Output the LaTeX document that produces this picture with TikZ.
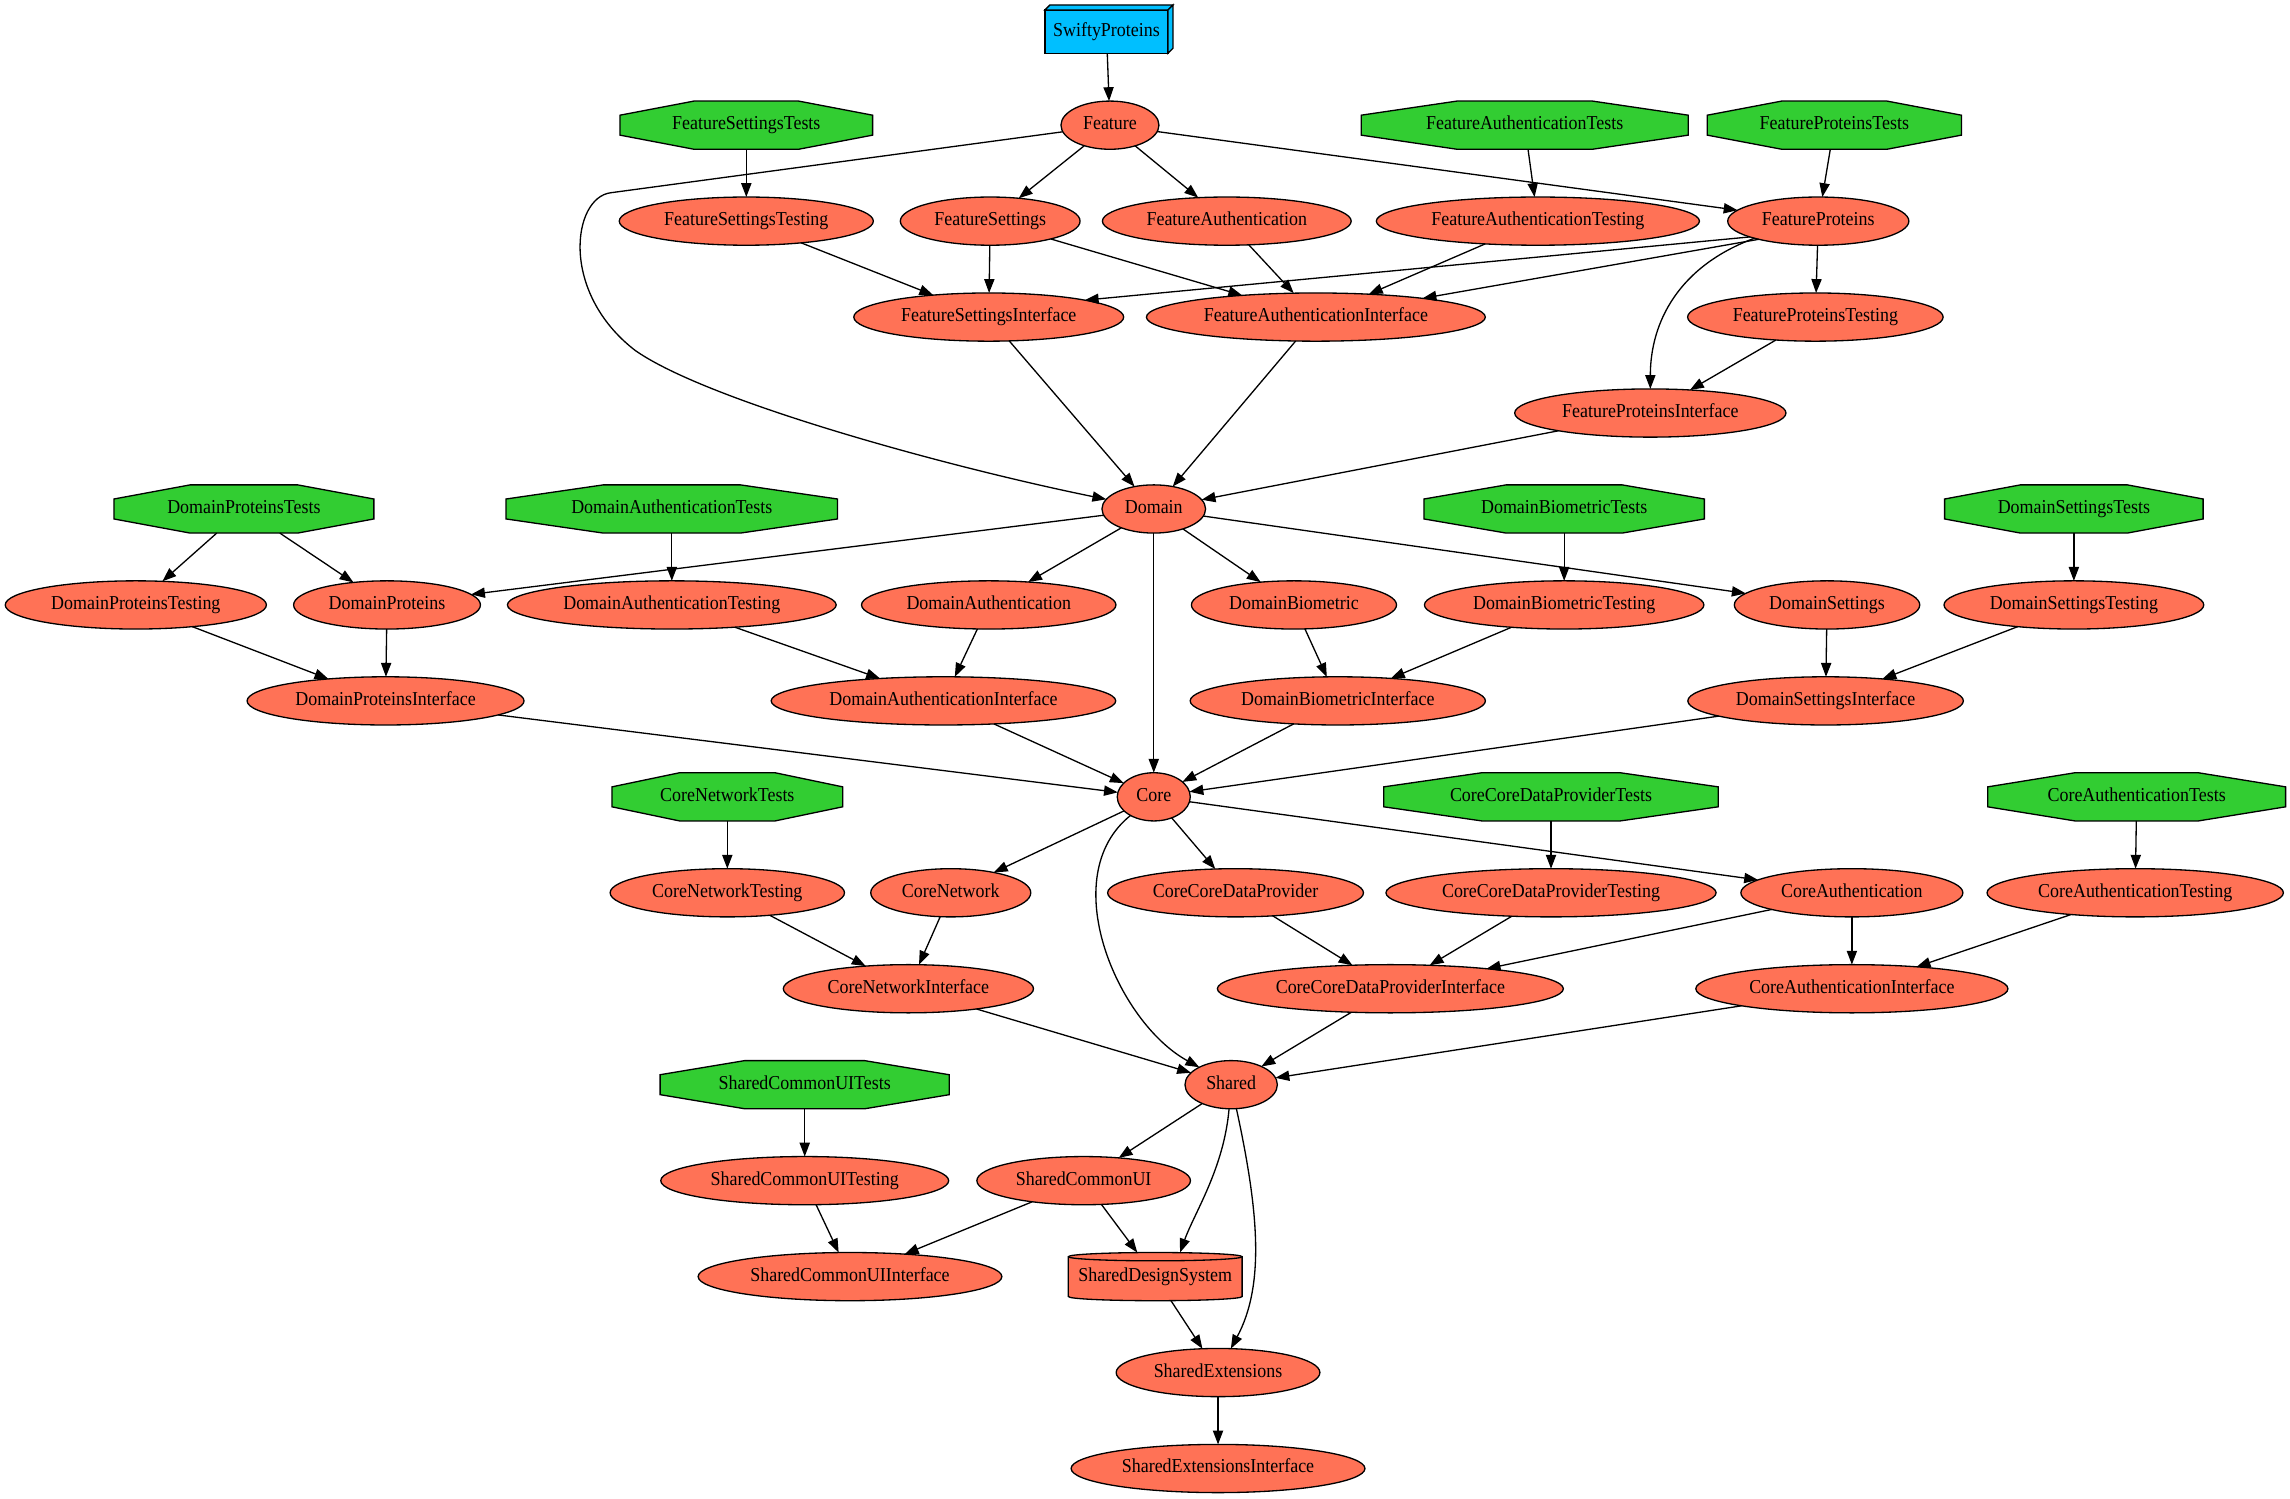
\documentclass[tikz,border=0pt]{standalone}
\usepackage{fontspec}
\setmainfont{Liberation Serif}[FakeStretch=0.91]
\usetikzlibrary{shapes.geometric, arrows.meta, calc, backgrounds}

\definecolor{appblue}{RGB}{0,191,255}
\definecolor{testgreen}{RGB}{50,205,50}
\definecolor{modcoral}{RGB}{255,114,86}

\begin{document}
\begin{tikzpicture}[x=1pt, y=-1pt, >={Triangle[length=9.5pt, width=7pt]},
    every node/.style={font=\fontsize{13.5}{15}\selectfont, text height=9pt, text depth=2.9pt, outer sep=0pt},
    module/.style={ellipse, draw, fill=modcoral, line width=0.9pt, minimum width=50pt, minimum height=33pt, inner xsep=5.3pt, inner ysep=2pt},
    tests/.style={rectangle, minimum height=33pt, inner sep=0pt},
    testshape/.style={draw, fill=testgreen, line width=0.9pt},
    appbox/.style={rectangle, draw, fill=appblue, line width=0.9pt, minimum width=84.3pt, minimum height=29.6pt, inner sep=0pt},
    bundle/.style={rectangle, minimum width=119pt, minimum height=33pt, inner sep=0pt},
    dep/.style={->, line width=0.9pt}]
    \useasboundingbox (0,0) rectangle (1568,1026);

    % App
    \node[appbox] (app) at (757.6,21.6) {SwiftyProteins};
    \filldraw[fill=appblue, line width=0.9pt] (app.north west) -- ++(3.4,-3.4) -- ($(app.north east)+(3.4,-3.4)$) -- (app.north east) -- cycle;
    \filldraw[fill=appblue, line width=0.9pt] (app.north east) -- ++(3.4,-3.4) -- ($(app.south east)+(3.4,-3.4)$) -- (app.south east) -- cycle;

    % Feature layer
    \node[module] (feat) at (760,85.7) {Feature};
    \node[tests, minimum width=173pt] (featSetTests) at (511,85.7) {FeatureSettingsTests};
    \node[tests, minimum width=224pt] (featAuthTests) at (1044,85.7) {FeatureAuthenticationTests};
    \node[tests, minimum width=174pt] (featProtTests) at (1256,85.7) {FeatureProteinsTests};

    \node[module] (featSetTesting) at (511,151.4) {FeatureSettingsTesting};
    \node[module] (featSet) at (678,151.4) {FeatureSettings};
    \node[module] (featAuth) at (840,151.4) {FeatureAuthentication};
    \node[module] (featAuthTesting) at (1053,151.4) {FeatureAuthenticationTesting};
    \node[module] (featProt) at (1245,151.4) {FeatureProteins};

    \node[module] (featSetIf) at (677,217.1) {FeatureSettingsInterface};
    \node[module] (featAuthIf) at (901,217.1) {FeatureAuthenticationInterface};
    \node[module] (featProtTesting) at (1243,217.1) {FeatureProteinsTesting};
    \node[module] (featProtIf) at (1130,282.8) {FeatureProteinsInterface};

    % Domain layer
    \node[module] (dom) at (790,348.5) {Domain};
    \node[tests, minimum width=178pt] (domProtTests) at (167,348.5) {DomainProteinsTests};
    \node[tests, minimum width=227pt] (domAuthTests) at (460,348.5) {DomainAuthenticationTests};
    \node[tests, minimum width=192pt] (domBioTests) at (1071,348.5) {DomainBiometricTests};
    \node[tests, minimum width=177pt] (domSetTests) at (1420,348.5) {DomainSettingsTests};

    \node[module] (domProtTesting) at (93,414.2) {DomainProteinsTesting};
    \node[module] (domProt) at (265,414.2) {DomainProteins};
    \node[module] (domAuthTesting) at (460,414.2) {DomainAuthenticationTesting};
    \node[module] (domAuth) at (677,414.2) {DomainAuthentication};
    \node[module] (domBio) at (886,414.2) {DomainBiometric};
    \node[module] (domBioTesting) at (1071,414.2) {DomainBiometricTesting};
    \node[module] (domSet) at (1251,414.2) {DomainSettings};
    \node[module] (domSetTesting) at (1420,414.2) {DomainSettingsTesting};

    \node[module] (domProtIf) at (264,479.9) {DomainProteinsInterface};
    \node[module] (domAuthIf) at (646,479.9) {DomainAuthenticationInterface};
    \node[module] (domBioIf) at (916,479.9) {DomainBiometricInterface};
    \node[module] (domSetIf) at (1250,479.9) {DomainSettingsInterface};

    % Core layer
    \node[module] (core) at (790,545.6) {Core};
    \node[tests, minimum width=158pt] (coreNetTests) at (498,545.6) {CoreNetworkTests};
    \node[tests, minimum width=229pt] (coreCDPTests) at (1062,545.6) {CoreCoreDataProviderTests};
    \node[tests, minimum width=204pt] (coreAuthTests) at (1463,545.6) {CoreAuthenticationTests};

    \node[module] (coreNetTesting) at (498,611.3) {CoreNetworkTesting};
    \node[module] (coreNet) at (651,611.3) {CoreNetwork};
    \node[module] (coreCDP) at (846,611.3) {CoreCoreDataProvider};
    \node[module] (coreCDPTesting) at (1062,611.3) {CoreCoreDataProviderTesting};
    \node[module] (coreAuth) at (1268,611.3) {CoreAuthentication};
    \node[module] (coreAuthTesting) at (1462,611.3) {CoreAuthenticationTesting};

    \node[module] (coreNetIf) at (622,677) {CoreNetworkInterface};
    \node[module] (coreCDPIf) at (952,677) {CoreCoreDataProviderInterface};
    \node[module] (coreAuthIf) at (1268,677) {CoreAuthenticationInterface};

    % Shared layer
    \node[module] (shared) at (843,742.7) {Shared};
    \node[tests, minimum width=198pt] (shUITests) at (551,742.7) {SharedCommonUITests};
    \node[module] (shUITesting) at (551,808.4) {SharedCommonUITesting};
    \node[module] (shUI) at (742,808.4) {SharedCommonUI};
    \node[module] (shUIIf) at (582,874.1) {SharedCommonUIInterface};
    \node[bundle] (shDS) at (791,874.1) {SharedDesignSystem};
    \node[module] (shExt) at (834,939.8) {SharedExtensions};
    \node[module] (shExtIf) at (834,1005.5) {SharedExtensionsInterface};

    % Octagons and cylinder behind the labels
    \begin{scope}[on background layer]
        \foreach \tst in {featSetTests, featAuthTests, featProtTests, domProtTests, domAuthTests, domBioTests, domSetTests, coreNetTests, coreCDPTests, coreAuthTests, shUITests}
            \filldraw[testshape] ($(\tst.north)!0.414!(\tst.north west)$) -- ($(\tst.north)!0.414!(\tst.north east)$) -- ($(\tst.east)!0.414!(\tst.north east)$) -- ($(\tst.east)!0.414!(\tst.south east)$) -- ($(\tst.south)!0.414!(\tst.south east)$) -- ($(\tst.south)!0.414!(\tst.south west)$) -- ($(\tst.west)!0.414!(\tst.south west)$) -- ($(\tst.west)!0.414!(\tst.north west)$) -- cycle;
        \filldraw[fill=modcoral, line width=0.9pt] ($(shDS.north west)+(0,2.85)$) -- ($(shDS.south west)+(0,-2.85)$) arc[start angle=180, end angle=360, x radius=59.5pt, y radius=2.85pt] -- ($(shDS.north east)+(0,2.85)$) arc[start angle=0, end angle=180, x radius=59.5pt, y radius=2.85pt] -- cycle;
        \draw[line width=0.9pt] ($(shDS.north west)+(0,2.85)$) arc[start angle=180, end angle=360, x radius=59.5pt, y radius=2.85pt];
    \end{scope}

    % Dependencies
    \foreach \src/\dst in {app/feat, feat/featSet, feat/featAuth, feat/featProt,
        featSetTests/featSetTesting, featAuthTests/featAuthTesting, featProtTests/featProt,
        featSetTesting/featSetIf, featSet/featSetIf, featSet/featAuthIf, featAuth/featAuthIf, featAuthTesting/featAuthIf,
        featProt/featProtTesting, featProtTesting/featProtIf,
        featSetIf/dom, featAuthIf/dom, featProtIf/dom,
        dom/domProt, dom/domAuth, dom/domBio, dom/domSet, dom/core,
        domProtTests/domProtTesting, domProtTests/domProt, domAuthTests/domAuthTesting, domBioTests/domBioTesting, domSetTests/domSetTesting,
        domProtTesting/domProtIf, domProt/domProtIf, domAuthTesting/domAuthIf, domAuth/domAuthIf,
        domBio/domBioIf, domBioTesting/domBioIf, domSet/domSetIf, domSetTesting/domSetIf,
        domProtIf/core, domAuthIf/core, domBioIf/core, domSetIf/core,
        core/coreNet, core/coreCDP, core/coreAuth,
        coreNetTests/coreNetTesting, coreCDPTests/coreCDPTesting, coreAuthTests/coreAuthTesting,
        coreNetTesting/coreNetIf, coreNet/coreNetIf, coreCDP/coreCDPIf, coreCDPTesting/coreCDPIf,
        coreAuth/coreCDPIf, coreAuth/coreAuthIf, coreAuthTesting/coreAuthIf,
        coreNetIf/shared, coreCDPIf/shared, coreAuthIf/shared,
        shared/shUI, shUITests/shUITesting, shUITesting/shUIIf, shUI/shUIIf, shUI/shDS,
        shDS/shExt, shExt/shExtIf}
        \draw[dep] (\src) -- (\dst);

    % Bent dependencies
    \draw[dep] (featProt.193) -- (featSetIf.10);
    \draw[dep] (featProt.197) -- (featAuthIf);
    \draw[dep] (featProt.195) .. controls (1150,182) and (1130,220) .. (featProtIf);
    \draw[dep] (feat.188) -- (418,132) .. controls (392,135.5) and (383,200) .. (435,240) .. controls (485,275) and (650,320) .. (dom);
    \draw[dep] (core) .. controls (722,600) and (765,700) .. (shared);
    \draw[dep] (shared) .. controls (838,800) and (818,830) .. ([xshift=17pt]shDS.north);
    \draw[dep] (shared) .. controls (862,830) and (866,880) .. (shExt);
\end{tikzpicture}
\end{document}
